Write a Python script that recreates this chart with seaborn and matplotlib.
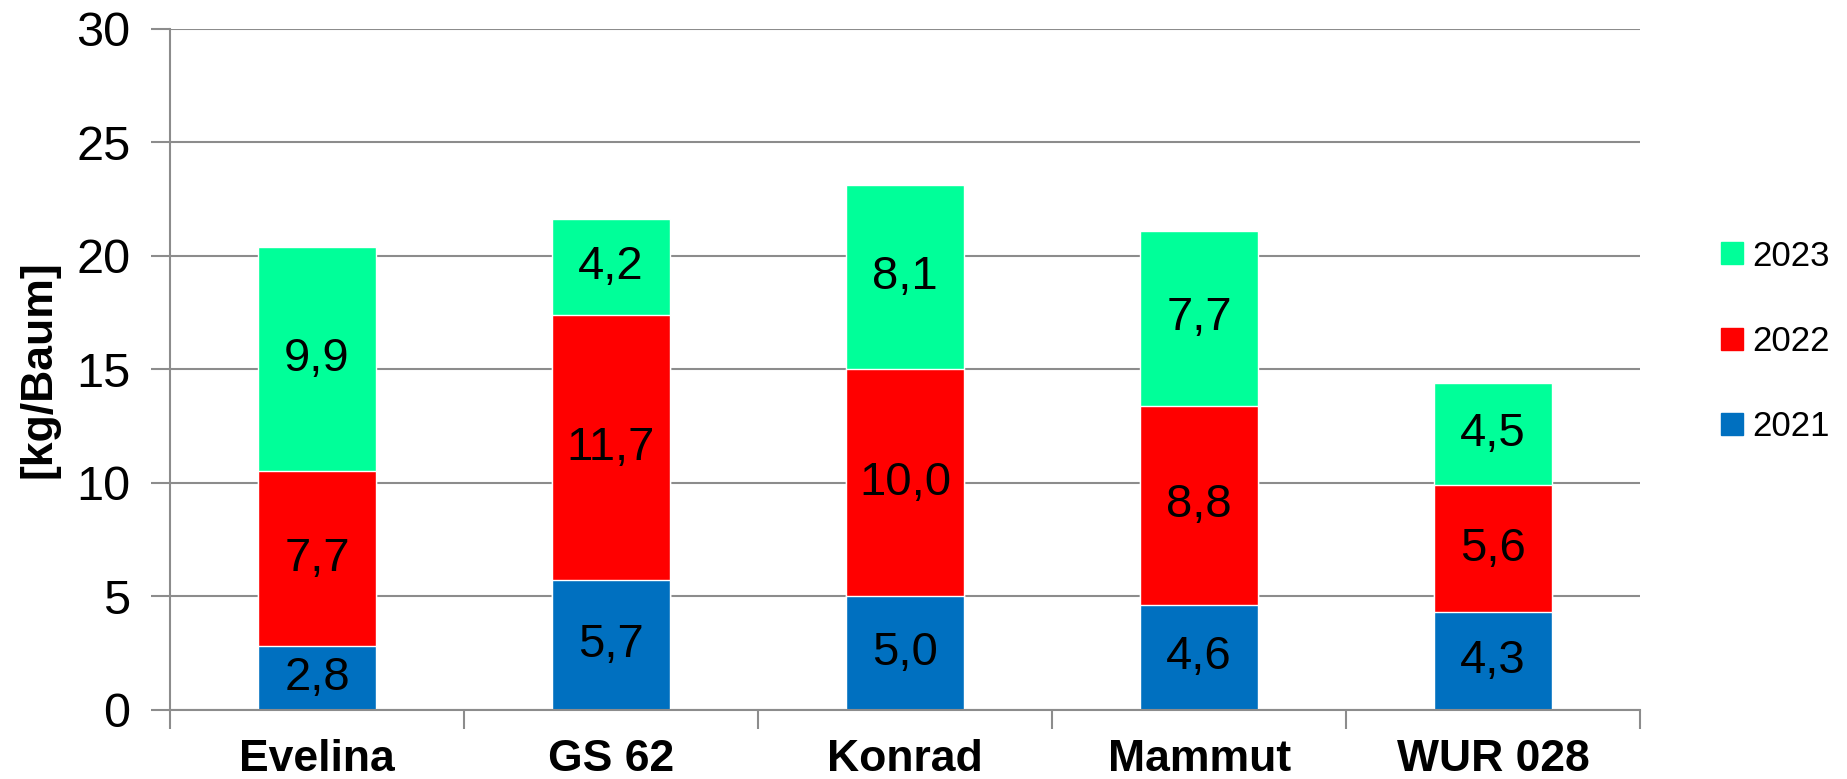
import pandas as pd
import seaborn as sns
import matplotlib.pyplot as plt
from matplotlib.lines import Line2D
from matplotlib.ticker import FixedLocator

# data
sorten = ['Evelina', 'GS 62', 'Konrad', 'Mammut', 'WUR 028']
ertrag_2021 = [2.8, 5.7, 5.0, 4.6, 4.3]
ertrag_2022 = [7.7, 11.7, 10.0, 8.8, 5.6]
ertrag_2023 = [9.9, 4.2, 8.1, 7.7, 4.5]
jahre = ['2021', '2022', '2023']
farben = {'2021': '#0070C0', '2022': '#FF0000', '2023': '#00FF99'}

df = pd.DataFrame({'sorte': sorten, '2021': ertrag_2021,
                   '2022': ertrag_2022, '2023': ertrag_2023})
# cumulative heights for stacking
df['bis_2021'] = df['2021']
df['bis_2022'] = df['2021'] + df['2022']
df['bis_2023'] = df['bis_2022'] + df['2023']

sns.set_style('white')
plt.rcParams['font.family'] = ['Liberation Sans', 'DejaVu Sans']
plt.rcParams['text.color'] = 'black'
plt.rcParams['xtick.labelcolor'] = 'black'
plt.rcParams['ytick.labelcolor'] = 'black'
plt.rcParams['axes.labelcolor'] = 'black'

fig, ax = plt.subplots(figsize=(18.47, 7.79), dpi=100)
fig.subplots_adjust(left=0.092, right=0.888, top=0.963, bottom=0.089)

# draw tallest first so the lower segments sit on top
for jahr in ['2023', '2022', '2021']:
    sns.barplot(data=df, x='sorte', y='bis_' + jahr, color=farben[jahr],
                width=0.4, saturation=1, ax=ax, zorder=2)

# value labels in segment centres
for i, row in df.iterrows():
    unten = 0
    for jahr in jahre:
        wert = row[jahr]
        ax.text(i, unten + wert / 2, f'{wert:.1f}'.replace('.', ','),
                ha='center', va='center', fontsize=34, color='black', zorder=3)
        unten += wert

ax.set_ylim(0, 30)
ax.set_xlim(-0.5, len(sorten) - 0.5)
ax.set_yticks(range(0, 31, 5))
ax.yaxis.grid(True, color='#8C8C8C', linewidth=1.5, zorder=0)
ax.set_axisbelow(True)

for side in ['top', 'right']:
    ax.spines[side].set_visible(False)
for side in ['left', 'bottom']:
    ax.spines[side].set_color('#8C8C8C')
    ax.spines[side].set_linewidth(1.5)

ax.tick_params(axis='y', length=14, width=1.5, color='#8C8C8C',
               labelsize=35, pad=14.5, direction='out', left=True)
ax.tick_params(axis='x', which='major', length=0, labelsize=32, pad=21)
ax.xaxis.set_minor_locator(FixedLocator([k + 0.5 for k in range(-1, len(sorten))]))
ax.tick_params(axis='x', which='minor', length=14, width=1.5,
               color='#8C8C8C', direction='out', bottom=True)
for lab in ax.get_xticklabels():
    lab.set_fontweight('bold')

ax.set_xlabel('')
ax.set_ylabel('[kg/Baum]', fontsize=32, fontweight='bold', labelpad=12)

handles = [Line2D([], [], marker='s', linestyle='', markersize=16,
                  color=farben[j]) for j in ['2023', '2022', '2021']]
fig.legend(handles, ['2023', '2022', '2021'], loc='center left',
           bbox_to_anchor=(0.914, 0.562), bbox_transform=fig.transFigure,
           frameon=False, fontsize=25, handlelength=0.7, handletextpad=0.25,
           labelspacing=1.5)

fig.savefig('out.png', dpi=100)
